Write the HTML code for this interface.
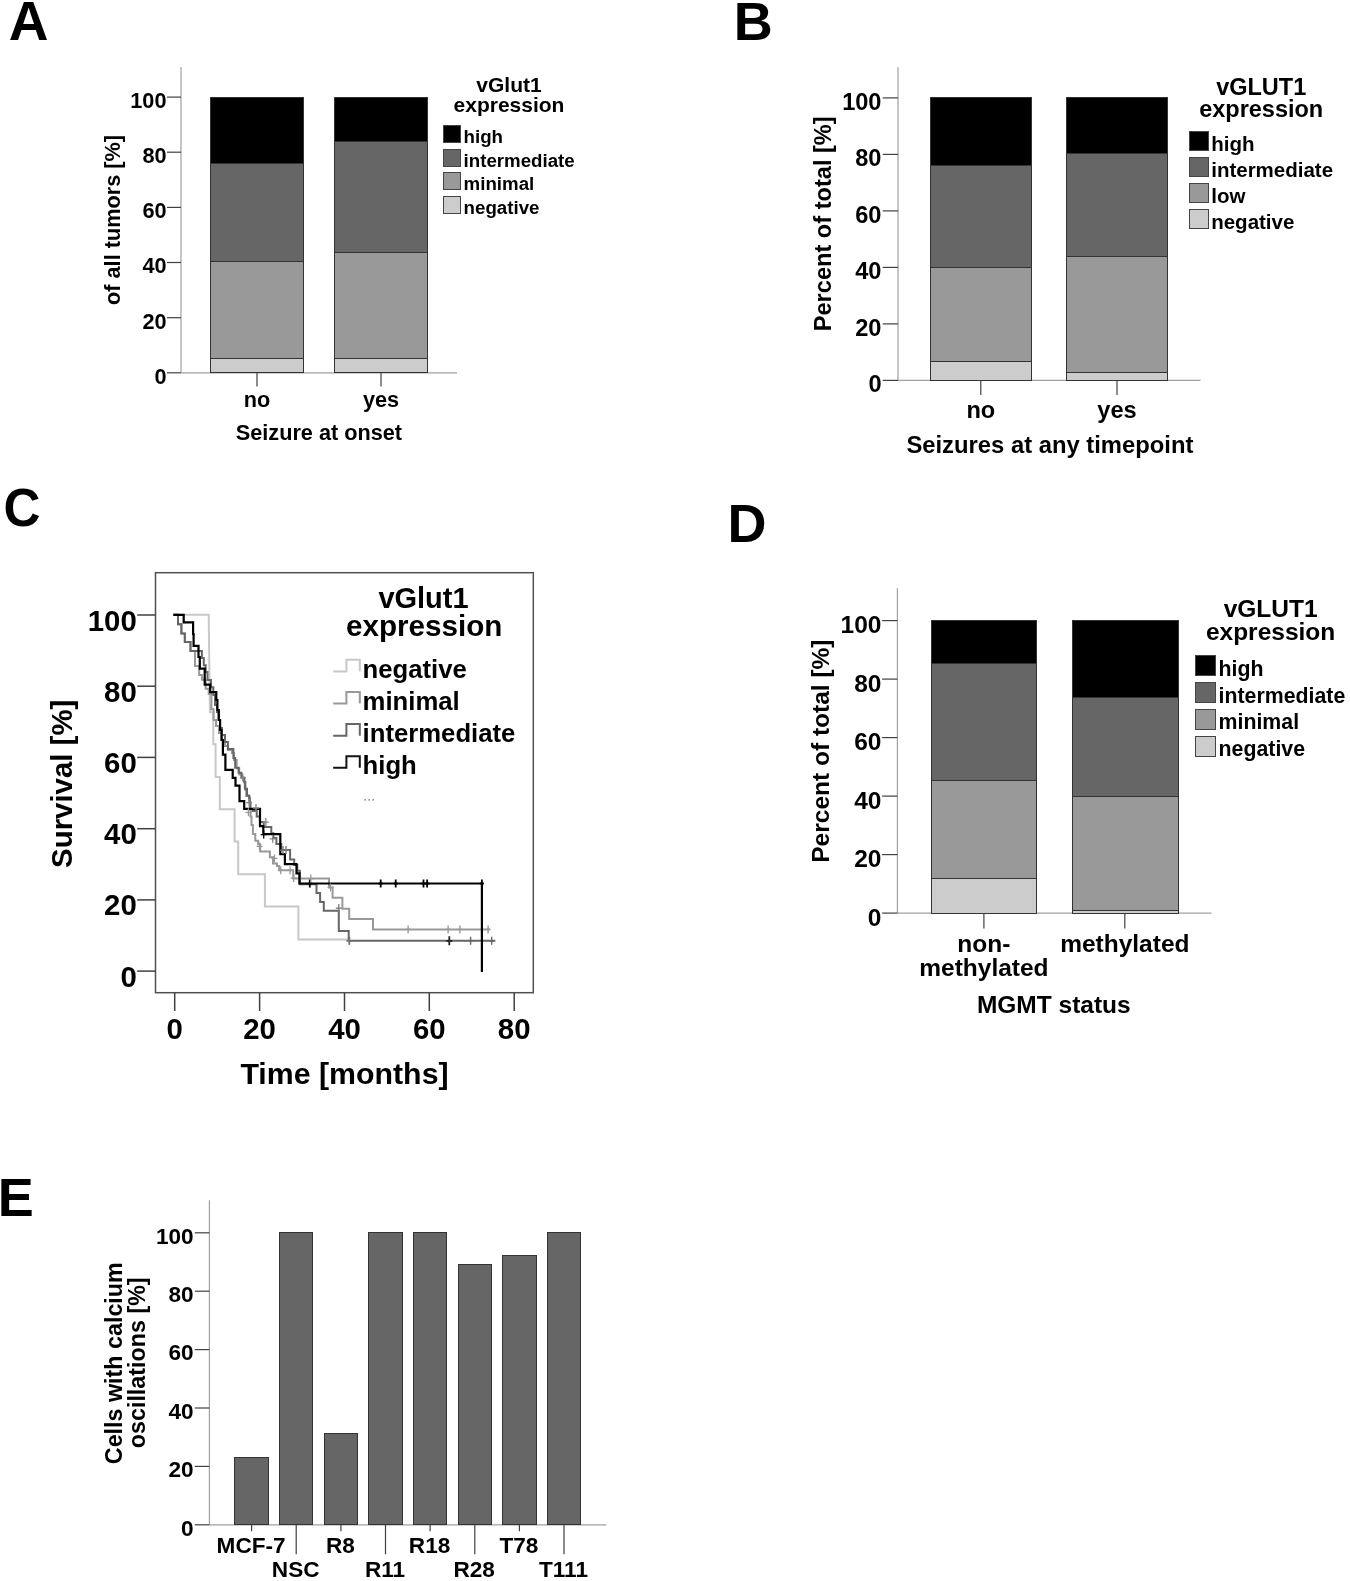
<!DOCTYPE html>
<html><head><meta charset="utf-8"><style>
html,body{margin:0;padding:0;background:#fff;}
svg{display:block;will-change:transform;}
text{font-family:"Liberation Sans",sans-serif;font-weight:bold;}
</style></head><body>
<svg width="1350" height="1581" viewBox="0 0 1350 1581">
<rect width="1350" height="1581" fill="#fff"/>
<text x="8.7" y="39.7" text-anchor="start" font-size="55" fill="#000">A</text>
<line x1="181.0" y1="67.0" x2="181.0" y2="372.8" stroke="#a0a0a0" stroke-width="1.2"/>
<line x1="181.0" y1="372.8" x2="457.0" y2="372.8" stroke="#a0a0a0" stroke-width="1.2"/>
<line x1="167.0" y1="372.8" x2="181.0" y2="372.8" stroke="#404040" stroke-width="1.2"/>
<text x="166.5" y="383.6" text-anchor="end" font-size="21.7" fill="#000">0</text>
<line x1="167.0" y1="317.7" x2="181.0" y2="317.7" stroke="#404040" stroke-width="1.2"/>
<text x="166.5" y="328.5" text-anchor="end" font-size="21.7" fill="#000">20</text>
<line x1="167.0" y1="262.5" x2="181.0" y2="262.5" stroke="#404040" stroke-width="1.2"/>
<text x="166.5" y="273.3" text-anchor="end" font-size="21.7" fill="#000">40</text>
<line x1="167.0" y1="207.4" x2="181.0" y2="207.4" stroke="#404040" stroke-width="1.2"/>
<text x="166.5" y="218.2" text-anchor="end" font-size="21.7" fill="#000">60</text>
<line x1="167.0" y1="152.2" x2="181.0" y2="152.2" stroke="#404040" stroke-width="1.2"/>
<text x="166.5" y="163.0" text-anchor="end" font-size="21.7" fill="#000">80</text>
<line x1="167.0" y1="97.1" x2="181.0" y2="97.1" stroke="#404040" stroke-width="1.2"/>
<text x="166.5" y="107.9" text-anchor="end" font-size="21.7" fill="#000">100</text>
<rect x="210.5" y="358.5" width="93.0" height="14.0" fill="#cccccc" stroke="#333333" stroke-width="1.0"/>
<rect x="210.5" y="261.5" width="93.0" height="97.0" fill="#999999" stroke="#333333" stroke-width="1.0"/>
<rect x="210.5" y="163.5" width="93.0" height="98.0" fill="#666666" stroke="#333333" stroke-width="1.0"/>
<rect x="210.5" y="97.5" width="93.0" height="66.0" fill="#000000" stroke="#333333" stroke-width="1.0"/>
<line x1="257.0" y1="372.8" x2="257.0" y2="386.5" stroke="#404040" stroke-width="1.2"/>
<text x="257.0" y="407.2" text-anchor="middle" font-size="21.7" fill="#000">no</text>
<rect x="334.5" y="358.5" width="93.0" height="14.0" fill="#cccccc" stroke="#333333" stroke-width="1.0"/>
<rect x="334.5" y="252.5" width="93.0" height="106.0" fill="#999999" stroke="#333333" stroke-width="1.0"/>
<rect x="334.5" y="141.5" width="93.0" height="111.0" fill="#666666" stroke="#333333" stroke-width="1.0"/>
<rect x="334.5" y="97.5" width="93.0" height="44.0" fill="#000000" stroke="#333333" stroke-width="1.0"/>
<line x1="381.0" y1="372.8" x2="381.0" y2="386.5" stroke="#404040" stroke-width="1.2"/>
<text x="381.0" y="407.2" text-anchor="middle" font-size="21.7" fill="#000">yes</text>
<text x="318.9" y="439.6" text-anchor="middle" font-size="21.7" fill="#000">Seizure at onset</text>
<text transform="translate(120.3,220.0) rotate(-90)" text-anchor="middle" font-size="21.7" fill="#000">of all tumors [%]</text>
<text x="509.0" y="91.8" text-anchor="middle" font-size="21" fill="#000">vGlut1</text>
<text x="509.0" y="112.3" text-anchor="middle" font-size="21" fill="#000">expression</text>
<rect x="443.5" y="125.5" width="17.0" height="17.0" fill="#000000" stroke="#444" stroke-width="1.0"/>
<text x="463.6" y="143.0" text-anchor="start" font-size="18.7" fill="#000">high</text>
<rect x="443.5" y="149.5" width="17.0" height="17.0" fill="#666666" stroke="#444" stroke-width="1.0"/>
<text x="463.6" y="166.7" text-anchor="start" font-size="18.7" fill="#000">intermediate</text>
<rect x="443.5" y="172.5" width="17.0" height="17.0" fill="#999999" stroke="#444" stroke-width="1.0"/>
<text x="463.6" y="190.3" text-anchor="start" font-size="18.7" fill="#000">minimal</text>
<rect x="443.5" y="196.5" width="17.0" height="17.0" fill="#cccccc" stroke="#444" stroke-width="1.0"/>
<text x="463.6" y="214.1" text-anchor="start" font-size="18.7" fill="#000">negative</text>
<text x="733.7" y="39.5" text-anchor="start" font-size="54" fill="#000">B</text>
<line x1="898.0" y1="67.2" x2="898.0" y2="380.4" stroke="#a0a0a0" stroke-width="1.2"/>
<line x1="898.0" y1="380.4" x2="1200.5" y2="380.4" stroke="#a0a0a0" stroke-width="1.2"/>
<line x1="882.7" y1="380.4" x2="898.0" y2="380.4" stroke="#404040" stroke-width="1.2"/>
<text x="881.5" y="392.1" text-anchor="end" font-size="23.6" fill="#000">0</text>
<line x1="882.7" y1="323.9" x2="898.0" y2="323.9" stroke="#404040" stroke-width="1.2"/>
<text x="881.5" y="335.6" text-anchor="end" font-size="23.6" fill="#000">20</text>
<line x1="882.7" y1="267.4" x2="898.0" y2="267.4" stroke="#404040" stroke-width="1.2"/>
<text x="881.5" y="279.1" text-anchor="end" font-size="23.6" fill="#000">40</text>
<line x1="882.7" y1="210.9" x2="898.0" y2="210.9" stroke="#404040" stroke-width="1.2"/>
<text x="881.5" y="222.6" text-anchor="end" font-size="23.6" fill="#000">60</text>
<line x1="882.7" y1="154.4" x2="898.0" y2="154.4" stroke="#404040" stroke-width="1.2"/>
<text x="881.5" y="166.1" text-anchor="end" font-size="23.6" fill="#000">80</text>
<line x1="882.7" y1="97.9" x2="898.0" y2="97.9" stroke="#404040" stroke-width="1.2"/>
<text x="881.5" y="109.6" text-anchor="end" font-size="23.6" fill="#000">100</text>
<rect x="930.5" y="361.5" width="101.0" height="19.0" fill="#cccccc" stroke="#333333" stroke-width="1.0"/>
<rect x="930.5" y="267.5" width="101.0" height="94.0" fill="#999999" stroke="#333333" stroke-width="1.0"/>
<rect x="930.5" y="165.5" width="101.0" height="102.0" fill="#666666" stroke="#333333" stroke-width="1.0"/>
<rect x="930.5" y="97.5" width="101.0" height="68.0" fill="#000000" stroke="#333333" stroke-width="1.0"/>
<line x1="980.8" y1="380.4" x2="980.8" y2="395.0" stroke="#404040" stroke-width="1.2"/>
<text x="980.8" y="417.8" text-anchor="middle" font-size="23.6" fill="#000">no</text>
<rect x="1066.5" y="372.5" width="101.0" height="8.0" fill="#cccccc" stroke="#333333" stroke-width="1.0"/>
<rect x="1066.5" y="256.5" width="101.0" height="116.0" fill="#999999" stroke="#333333" stroke-width="1.0"/>
<rect x="1066.5" y="153.5" width="101.0" height="103.0" fill="#666666" stroke="#333333" stroke-width="1.0"/>
<rect x="1066.5" y="97.5" width="101.0" height="56.0" fill="#000000" stroke="#333333" stroke-width="1.0"/>
<line x1="1117.0" y1="380.4" x2="1117.0" y2="395.0" stroke="#404040" stroke-width="1.2"/>
<text x="1117.0" y="417.8" text-anchor="middle" font-size="23.6" fill="#000">yes</text>
<text x="1049.9" y="452.5" text-anchor="middle" font-size="23.8" fill="#000">Seizures at any timepoint</text>
<text transform="translate(830.8,223.8) rotate(-90)" text-anchor="middle" font-size="23.6" fill="#000">Percent of total [%]</text>
<text x="1261.2" y="94.9" text-anchor="middle" font-size="23.5" fill="#000">vGLUT1</text>
<text x="1261.2" y="117.3" text-anchor="middle" font-size="23.5" fill="#000">expression</text>
<rect x="1189.5" y="131.5" width="19.0" height="19.0" fill="#000000" stroke="#444" stroke-width="1.0"/>
<text x="1211.2" y="151.0" text-anchor="start" font-size="20.5" fill="#000">high</text>
<rect x="1189.5" y="157.5" width="19.0" height="19.0" fill="#666666" stroke="#444" stroke-width="1.0"/>
<text x="1211.2" y="177.0" text-anchor="start" font-size="20.5" fill="#000">intermediate</text>
<rect x="1189.5" y="183.5" width="19.0" height="19.0" fill="#999999" stroke="#444" stroke-width="1.0"/>
<text x="1211.2" y="203.0" text-anchor="start" font-size="20.5" fill="#000">low</text>
<rect x="1189.5" y="209.5" width="19.0" height="19.0" fill="#cccccc" stroke="#444" stroke-width="1.0"/>
<text x="1211.2" y="228.8" text-anchor="start" font-size="20.5" fill="#000">negative</text>
<text x="727.5" y="542.4" text-anchor="start" font-size="54" fill="#000">D</text>
<line x1="897.4" y1="588.3" x2="897.4" y2="913.1" stroke="#a0a0a0" stroke-width="1.2"/>
<line x1="897.4" y1="913.1" x2="1211.5" y2="913.1" stroke="#a0a0a0" stroke-width="1.2"/>
<line x1="882.1" y1="913.1" x2="897.4" y2="913.1" stroke="#404040" stroke-width="1.2"/>
<text x="881.5" y="925.5" text-anchor="end" font-size="24.5" fill="#000">0</text>
<line x1="882.1" y1="854.6" x2="897.4" y2="854.6" stroke="#404040" stroke-width="1.2"/>
<text x="881.5" y="867.0" text-anchor="end" font-size="24.5" fill="#000">20</text>
<line x1="882.1" y1="796.1" x2="897.4" y2="796.1" stroke="#404040" stroke-width="1.2"/>
<text x="881.5" y="808.5" text-anchor="end" font-size="24.5" fill="#000">40</text>
<line x1="882.1" y1="737.6" x2="897.4" y2="737.6" stroke="#404040" stroke-width="1.2"/>
<text x="881.5" y="750.0" text-anchor="end" font-size="24.5" fill="#000">60</text>
<line x1="882.1" y1="679.1" x2="897.4" y2="679.1" stroke="#404040" stroke-width="1.2"/>
<text x="881.5" y="691.5" text-anchor="end" font-size="24.5" fill="#000">80</text>
<line x1="882.1" y1="620.6" x2="897.4" y2="620.6" stroke="#404040" stroke-width="1.2"/>
<text x="881.5" y="633.0" text-anchor="end" font-size="24.5" fill="#000">100</text>
<rect x="931.5" y="878.5" width="105.0" height="35.0" fill="#cccccc" stroke="#333333" stroke-width="1.0"/>
<rect x="931.5" y="780.5" width="105.0" height="98.0" fill="#999999" stroke="#333333" stroke-width="1.0"/>
<rect x="931.5" y="663.5" width="105.0" height="117.0" fill="#666666" stroke="#333333" stroke-width="1.0"/>
<rect x="931.5" y="620.5" width="105.0" height="43.0" fill="#000000" stroke="#333333" stroke-width="1.0"/>
<line x1="983.9" y1="913.1" x2="983.9" y2="928.5" stroke="#404040" stroke-width="1.2"/>
<text x="983.9" y="951.6" text-anchor="middle" font-size="24.5" fill="#000">non-</text>
<text x="983.9" y="975.7" text-anchor="middle" font-size="24.5" fill="#000">methylated</text>
<rect x="1072.5" y="910.5" width="106.0" height="3.0" fill="#cccccc" stroke="#333333" stroke-width="1.0"/>
<rect x="1072.5" y="796.5" width="106.0" height="114.0" fill="#999999" stroke="#333333" stroke-width="1.0"/>
<rect x="1072.5" y="697.5" width="106.0" height="99.0" fill="#666666" stroke="#333333" stroke-width="1.0"/>
<rect x="1072.5" y="620.5" width="106.0" height="77.0" fill="#000000" stroke="#333333" stroke-width="1.0"/>
<line x1="1124.8" y1="913.1" x2="1124.8" y2="928.5" stroke="#404040" stroke-width="1.2"/>
<text x="1124.8" y="951.9" text-anchor="middle" font-size="24.5" fill="#000">methylated</text>
<text x="1053.8" y="1012.5" text-anchor="middle" font-size="24.5" fill="#000">MGMT status</text>
<text transform="translate(828.5,751.1) rotate(-90)" text-anchor="middle" font-size="24.5" fill="#000">Percent of total [%]</text>
<text x="1270.6" y="616.7" text-anchor="middle" font-size="24.5" fill="#000">vGLUT1</text>
<text x="1270.6" y="640.4" text-anchor="middle" font-size="24.5" fill="#000">expression</text>
<rect x="1195.5" y="655.5" width="20.0" height="20.0" fill="#000000" stroke="#444" stroke-width="1.0"/>
<text x="1218.6" y="675.6" text-anchor="start" font-size="21.3" fill="#000">high</text>
<rect x="1195.5" y="682.5" width="20.0" height="20.0" fill="#666666" stroke="#444" stroke-width="1.0"/>
<text x="1218.6" y="702.6" text-anchor="start" font-size="21.3" fill="#000">intermediate</text>
<rect x="1195.5" y="709.5" width="20.0" height="20.0" fill="#999999" stroke="#444" stroke-width="1.0"/>
<text x="1218.6" y="729.4" text-anchor="start" font-size="21.3" fill="#000">minimal</text>
<rect x="1195.5" y="736.5" width="20.0" height="20.0" fill="#cccccc" stroke="#444" stroke-width="1.0"/>
<text x="1218.6" y="756.2" text-anchor="start" font-size="21.3" fill="#000">negative</text>
<text transform="translate(3.45,525.8) scale(0.94,1)" font-size="54.5">C</text>
<rect x="155.5" y="572.7" width="377.8" height="420" fill="none" stroke="#505050" stroke-width="1.5"/>
<line x1="137.2" y1="971.1" x2="155.5" y2="971.1" stroke="#404040" stroke-width="1.5"/>
<text x="136.8" y="986.6" text-anchor="end" font-size="29.4" fill="#000">0</text>
<line x1="137.2" y1="899.9" x2="155.5" y2="899.9" stroke="#404040" stroke-width="1.5"/>
<text x="136.8" y="915.4" text-anchor="end" font-size="29.4" fill="#000">20</text>
<line x1="137.2" y1="828.7" x2="155.5" y2="828.7" stroke="#404040" stroke-width="1.5"/>
<text x="136.8" y="844.2" text-anchor="end" font-size="29.4" fill="#000">40</text>
<line x1="137.2" y1="757.4" x2="155.5" y2="757.4" stroke="#404040" stroke-width="1.5"/>
<text x="136.8" y="772.9" text-anchor="end" font-size="29.4" fill="#000">60</text>
<line x1="137.2" y1="686.2" x2="155.5" y2="686.2" stroke="#404040" stroke-width="1.5"/>
<text x="136.8" y="701.7" text-anchor="end" font-size="29.4" fill="#000">80</text>
<line x1="137.2" y1="615.0" x2="155.5" y2="615.0" stroke="#404040" stroke-width="1.5"/>
<text x="136.8" y="630.5" text-anchor="end" font-size="29.4" fill="#000">100</text>
<line x1="174.7" y1="992.7" x2="174.7" y2="1011.0" stroke="#404040" stroke-width="1.5"/>
<text x="174.7" y="1039.3" text-anchor="middle" font-size="29.4" fill="#000">0</text>
<line x1="259.6" y1="992.7" x2="259.6" y2="1011.0" stroke="#404040" stroke-width="1.5"/>
<text x="259.6" y="1039.3" text-anchor="middle" font-size="29.4" fill="#000">20</text>
<line x1="344.5" y1="992.7" x2="344.5" y2="1011.0" stroke="#404040" stroke-width="1.5"/>
<text x="344.5" y="1039.3" text-anchor="middle" font-size="29.4" fill="#000">40</text>
<line x1="429.3" y1="992.7" x2="429.3" y2="1011.0" stroke="#404040" stroke-width="1.5"/>
<text x="429.3" y="1039.3" text-anchor="middle" font-size="29.4" fill="#000">60</text>
<line x1="514.2" y1="992.7" x2="514.2" y2="1011.0" stroke="#404040" stroke-width="1.5"/>
<text x="514.2" y="1039.3" text-anchor="middle" font-size="29.4" fill="#000">80</text>
<text x="344.5" y="1083.7" text-anchor="middle" font-size="30.3" fill="#000">Time [months]</text>
<text transform="translate(71.6,783.8) rotate(-90)" text-anchor="middle" font-size="29.4" fill="#000">Survival [%]</text>
<text x="423.5" y="607.7" text-anchor="middle" font-size="29" fill="#000">vGlut1</text>
<text x="424.2" y="635.7" text-anchor="middle" font-size="29.6" fill="#000">expression</text>
<path d="M333.2,671.4 H346.4 V659.8 H359.8 V671.4" fill="none" stroke="#c8c8c8" stroke-width="2"/>
<text x="362.6" y="677.7" text-anchor="start" font-size="25.7" fill="#000">negative</text>
<path d="M333.2,703.5 H346.4 V691.9 H359.8 V703.5" fill="none" stroke="#999999" stroke-width="2"/>
<text x="362.6" y="709.8" text-anchor="start" font-size="25.7" fill="#000">minimal</text>
<path d="M333.2,735.7 H346.4 V724.1 H359.8 V735.7" fill="none" stroke="#666666" stroke-width="2"/>
<text x="362.6" y="742.0" text-anchor="start" font-size="25.7" fill="#000">intermediate</text>
<path d="M333.2,767.8 H346.4 V756.2 H359.8 V767.8" fill="none" stroke="#111111" stroke-width="2"/>
<text x="362.6" y="774.1" text-anchor="start" font-size="25.7" fill="#000">high</text>
<rect x="364.5" y="799.2" width="1.3" height="1.3" fill="#555"/>
<rect x="368.5" y="799.2" width="1.3" height="1.3" fill="#555"/>
<rect x="372.5" y="799.2" width="1.3" height="1.3" fill="#555"/>
<path d="M173.4,614.8 H208.7 L209.6,690 L210,712.3 H213.3 V744.3 H215.6 V777 H219.8 V809.2 H234.6 V841.6 H238.2 V874.2 H264.9 V906.6 H298.4 V939.6 H350" fill="none" stroke="#c8c8c8" stroke-width="2" stroke-linejoin="miter"/>
<path d="M173.4,614.8 H178 V624.3 H181.4 V633.4 H184.8 V642.1 H190.5 V650.9 H195 V666 H199.2 V675.1 H201.9 V679.7 H205.7 V688.8 H208.7 V694.1 H211.4 V709.3 H213.6 V720 H216 V726 H219 V733 H222 V740 H225 V746 H228 V750 H232 V753 H234 V760 H236.7 V768.3 H239.2 V774.6 H242 V778 H244.3 V782.2 H245.5 V790 H246.2 V796.1 H249.3 V801.2 H250 V808 H250.5 V816.5 H251.5 V825 H252.9 V833.9 H255.3 V840.8 H258.1 V844.3 H260.2 V851.5 H269.9 V857.3 H273 V863.6 H277 V866 H279.2 V870.3 H293.2 V878.6 H329 V887.4 H332.6 V897.8 H342.4 V908.7 H349.2 V919 H373 V929.4 H490" fill="none" stroke="#999999" stroke-width="2" stroke-linejoin="miter"/>
<path d="M173.4,614.8 H178 V624.3 H181.4 V633.4 H184.8 V642.1 H190.5 V650.9 H201.9 V658 H203.8 V665.3 H205.7 V672 H207.5 V680 H211 V687.3 H213.3 V695 H215 V705 H217 V712 H218.6 V720 H220 V728 H222 V735 H225 V742 H227.9 V749 H233.4 V758 H235.2 V767.8 H238.6 V772.7 H241.4 V777.6 H244.2 V781.7 H244.9 V788.7 H247 V795.6 H249.1 V797.7 H249.8 V802.6 H250.5 V808.9 H252.6 V810.9 H256.7 V816.5 H259.9 V822 H263.7 V827 H271.3 V833.2 H273.4 V838 H276.4 V844 H281.3 V850.1 H290.1 V859.4 H294.2 V865 H297.3 V870.8 H299.9 V884.3 H316.5 V893.1 H320.1 V901.9 H323.8 V910.7 H338.8 V931 H348.7 V940.8 H495.3" fill="none" stroke="#666666" stroke-width="2" stroke-linejoin="miter"/>
<path d="M173.4,614.8 H183.7 V622.4 H193.1 V634 H193.6 V645.9 H198.5 V657 H199.8 V668.7 H204.7 V684.6 H210.2 V692.2 H216.3 V700 H217.4 V710 H218.8 V720 H220.1 V730 H221.5 V740 H222.9 V754.6 H225.4 V769.9 H232.7 V777.9 H235.5 V785.6 H239.5 V801.2 H244.2 V808.9 H260 V826.2 H263.3 V834.2 H280.3 V854.2 H284.9 V864.1 H296.5 V873.4 H299.4 V883.5 H481.9 V972" fill="none" stroke="#000" stroke-width="2.2" stroke-linejoin="miter"/>
<path d="M309.8,879.5 V887.5 M307.8,883.5 H311.8" stroke="#000" stroke-width="1.8" fill="none"/>
<path d="M380.7,879.5 V887.5 M378.7,883.5 H382.7" stroke="#000" stroke-width="1.8" fill="none"/>
<path d="M395.7,879.5 V887.5 M393.7,883.5 H397.7" stroke="#000" stroke-width="1.8" fill="none"/>
<path d="M423.5,879.5 V887.5 M421.5,883.5 H425.5" stroke="#000" stroke-width="1.8" fill="none"/>
<path d="M427.1,879.5 V887.5 M425.1,883.5 H429.1" stroke="#000" stroke-width="1.8" fill="none"/>
<path d="M481.9,879.5 V887.5 M479.9,883.5 H483.9" stroke="#000" stroke-width="1.8" fill="none"/>
<path d="M408.1,925.4 V933.4 M405.6,929.4 H410.6" stroke="#999999" stroke-width="1.4" fill="none"/>
<path d="M448.1,925.4 V933.4 M445.6,929.4 H450.6" stroke="#999999" stroke-width="1.4" fill="none"/>
<path d="M459.9,925.4 V933.4 M457.4,929.4 H462.4" stroke="#999999" stroke-width="1.4" fill="none"/>
<path d="M488.1,925.4 V933.4 M485.6,929.4 H490.6" stroke="#999999" stroke-width="1.4" fill="none"/>
<path d="M349.5,936.8 V944.8 M347.0,940.8 H352.0" stroke="#666666" stroke-width="1.4" fill="none"/>
<path d="M470.6,936.8 V944.8 M468.1,940.8 H473.1" stroke="#666666" stroke-width="1.4" fill="none"/>
<path d="M491.7,936.8 V944.8 M489.2,940.8 H494.2" stroke="#666666" stroke-width="1.4" fill="none"/>
<path d="M449.3,936.3 V945.3 M446.3,940.8 H452.3" stroke="#222" stroke-width="1.8" fill="none"/>
<path d="M242.8,773.6 V781.6 M239.8,777.6 H245.8" stroke="#888" stroke-width="1.3" fill="none"/>
<path d="M249.1,798.6 V806.6 M246.1,802.6 H252.1" stroke="#888" stroke-width="1.3" fill="none"/>
<path d="M256.0,804.0 V812.0 M253.0,808.0 H259.0" stroke="#888" stroke-width="1.3" fill="none"/>
<path d="M248.4,808.3 V816.3 M245.4,812.3 H251.4" stroke="#999" stroke-width="1.3" fill="none"/>
<path d="M265.8,818.1 V826.1 M262.8,822.1 H268.8" stroke="#888" stroke-width="1.3" fill="none"/>
<path d="M263.7,830.6 V838.6 M260.7,834.6 H266.7" stroke="#000" stroke-width="1.3" fill="none"/>
<path d="M272.7,834.8 V842.8 M269.7,838.8 H275.7" stroke="#888" stroke-width="1.3" fill="none"/>
<path d="M259.5,842.4 V850.4 M256.5,846.4 H262.5" stroke="#999" stroke-width="1.3" fill="none"/>
<path d="M274.5,854.4 V862.4 M271.5,858.4 H277.5" stroke="#999" stroke-width="1.3" fill="none"/>
<path d="M280.7,866.3 V874.3 M277.7,870.3 H283.7" stroke="#999" stroke-width="1.3" fill="none"/>
<path d="M290.1,866.3 V874.3 M287.1,870.3 H293.1" stroke="#999" stroke-width="1.3" fill="none"/>
<path d="M293.7,874.1 V882.1 M290.7,878.1 H296.7" stroke="#999" stroke-width="1.3" fill="none"/>
<path d="M310.8,874.6 V882.6 M307.8,878.6 H313.8" stroke="#999" stroke-width="1.3" fill="none"/>
<path d="M330.5,883.4 V891.4 M327.5,887.4 H333.5" stroke="#999" stroke-width="1.3" fill="none"/>
<path d="M338.8,904.1 V912.1 M335.8,908.1 H341.8" stroke="#777" stroke-width="1.3" fill="none"/>
<path d="M349.2,936.8 V944.8 M346.2,940.8 H352.2" stroke="#777" stroke-width="1.3" fill="none"/>
<path d="M283.0,846.1 V854.1 M280.0,850.1 H286.0" stroke="#777" stroke-width="1.3" fill="none"/>
<path d="M286.0,846.1 V854.1 M283.0,850.1 H289.0" stroke="#777" stroke-width="1.3" fill="none"/>
<text x="-2.3" y="1215.5" text-anchor="start" font-size="54" fill="#000">E</text>
<line x1="209.4" y1="1200.3" x2="209.4" y2="1524.8" stroke="#a0a0a0" stroke-width="1.2"/>
<line x1="209.4" y1="1524.8" x2="606.3" y2="1524.8" stroke="#a0a0a0" stroke-width="1.2"/>
<line x1="194.8" y1="1524.8" x2="209.4" y2="1524.8" stroke="#404040" stroke-width="1.2"/>
<text x="193.6" y="1535.5" text-anchor="end" font-size="22.6" fill="#000">0</text>
<line x1="194.8" y1="1466.4" x2="209.4" y2="1466.4" stroke="#404040" stroke-width="1.2"/>
<text x="193.6" y="1477.1" text-anchor="end" font-size="22.6" fill="#000">20</text>
<line x1="194.8" y1="1408.0" x2="209.4" y2="1408.0" stroke="#404040" stroke-width="1.2"/>
<text x="193.6" y="1418.7" text-anchor="end" font-size="22.6" fill="#000">40</text>
<line x1="194.8" y1="1349.6" x2="209.4" y2="1349.6" stroke="#404040" stroke-width="1.2"/>
<text x="193.6" y="1360.3" text-anchor="end" font-size="22.6" fill="#000">60</text>
<line x1="194.8" y1="1291.2" x2="209.4" y2="1291.2" stroke="#404040" stroke-width="1.2"/>
<text x="193.6" y="1301.9" text-anchor="end" font-size="22.6" fill="#000">80</text>
<line x1="194.8" y1="1232.8" x2="209.4" y2="1232.8" stroke="#404040" stroke-width="1.2"/>
<text x="193.6" y="1243.5" text-anchor="end" font-size="22.6" fill="#000">100</text>
<rect x="234.5" y="1457.5" width="34.0" height="67.0" fill="#666666" stroke="#333" stroke-width="1.0"/>
<line x1="251.6" y1="1524.8" x2="251.6" y2="1531.2" stroke="#404040" stroke-width="1.2"/>
<text x="251.1" y="1553.2" text-anchor="middle" font-size="22.6" fill="#000">MCF-7</text>
<rect x="279.5" y="1232.5" width="33.0" height="292.0" fill="#666666" stroke="#333" stroke-width="1.0"/>
<line x1="296.2" y1="1524.8" x2="296.2" y2="1554.3" stroke="#404040" stroke-width="1.2"/>
<text x="295.7" y="1576.6" text-anchor="middle" font-size="22.6" fill="#000">NSC</text>
<rect x="324.5" y="1433.5" width="33.0" height="91.0" fill="#666666" stroke="#333" stroke-width="1.0"/>
<line x1="340.9" y1="1524.8" x2="340.9" y2="1531.2" stroke="#404040" stroke-width="1.2"/>
<text x="340.4" y="1553.2" text-anchor="middle" font-size="22.6" fill="#000">R8</text>
<rect x="368.5" y="1232.5" width="34.0" height="292.0" fill="#666666" stroke="#333" stroke-width="1.0"/>
<line x1="385.5" y1="1524.8" x2="385.5" y2="1554.3" stroke="#404040" stroke-width="1.2"/>
<text x="385.0" y="1576.6" text-anchor="middle" font-size="22.6" fill="#000">R11</text>
<rect x="413.5" y="1232.5" width="33.0" height="292.0" fill="#666666" stroke="#333" stroke-width="1.0"/>
<line x1="430.1" y1="1524.8" x2="430.1" y2="1531.2" stroke="#404040" stroke-width="1.2"/>
<text x="429.6" y="1553.2" text-anchor="middle" font-size="22.6" fill="#000">R18</text>
<rect x="458.5" y="1264.5" width="33.0" height="260.0" fill="#666666" stroke="#333" stroke-width="1.0"/>
<line x1="474.8" y1="1524.8" x2="474.8" y2="1554.3" stroke="#404040" stroke-width="1.2"/>
<text x="474.2" y="1576.6" text-anchor="middle" font-size="22.6" fill="#000">R28</text>
<rect x="502.5" y="1255.5" width="34.0" height="269.0" fill="#666666" stroke="#333" stroke-width="1.0"/>
<line x1="519.4" y1="1524.8" x2="519.4" y2="1531.2" stroke="#404040" stroke-width="1.2"/>
<text x="518.9" y="1553.2" text-anchor="middle" font-size="22.6" fill="#000">T78</text>
<rect x="547.5" y="1232.5" width="33.0" height="292.0" fill="#666666" stroke="#333" stroke-width="1.0"/>
<line x1="564.0" y1="1524.8" x2="564.0" y2="1554.3" stroke="#404040" stroke-width="1.2"/>
<text x="563.5" y="1576.6" text-anchor="middle" font-size="22.6" fill="#000">T111</text>
<text transform="translate(122.0,1363.2) rotate(-90)" text-anchor="middle" font-size="23.3" fill="#000">Cells with calcium</text>
<text transform="translate(144.6,1362.8) rotate(-90)" text-anchor="middle" font-size="23.3" fill="#000">oscillations [%]</text>
</svg>
</body></html>
